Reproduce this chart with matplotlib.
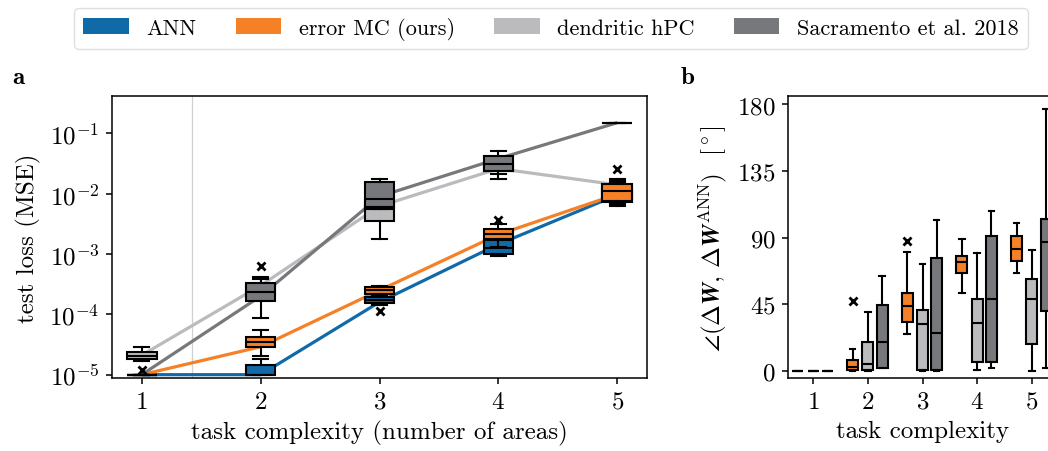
import matplotlib
matplotlib.use("Agg")
import matplotlib.pyplot as plt
from matplotlib.patches import Patch

plt.rcParams.update({
    "font.family": "serif",
    "font.serif": ["cmr10"],
    "mathtext.fontset": "cm",
    "axes.formatter.use_mathtext": True,
    "axes.unicode_minus": False,
    "font.size": 18,
})

tasks = [1, 2, 3, 4, 5]
models = ["ANN", "error MC (ours)", "dendritic hPC", "Sacramento et al. 2018"]
colors = ["#106aa8", "#f58025", "#bbbbbd", "#77787b"]

# panel a: mean test loss per task (the lines)
loss_mean_ann = [1e-5, 1e-5, 1.6e-4, 1.45e-3, 9.5e-3]
loss_mean_mc = [1e-5, 2.9e-5, 2.5e-4, 2.1e-3, 9.8e-3]
loss_mean_hpc = [2.1e-5, 3.0e-4, 6.2e-3, 2.6e-2, 1.4e-2]
loss_mean_sac = [1e-5, 2.0e-4, 9.0e-3, 3.8e-2, 0.15]

# panel a box stats per task: whislo, q1, med, q3, whishi
loss_box_ann = [
    [1e-5, 1e-5, 1e-5, 1e-5, 1e-5],
    [1e-5, 1e-5, 1e-5, 1.45e-5, 1.8e-5],
    [1.45e-4, 1.55e-4, 1.72e-4, 1.95e-4, 2.1e-4],
    [9.1e-4, 1.0e-3, 1.28e-3, 1.7e-3, 2.4e-3],
    [6.3e-3, 7.3e-3, 9.0e-3, 1.2e-2, 1.5e-2],
]
loss_fliers_ann = [[], [], [1.15e-4], [], []]

loss_box_mc = [
    [1e-5, 1e-5, 1e-5, 1e-5, 1e-5],
    [2.06e-5, 2.85e-5, 3.45e-5, 4.17e-5, 5.5e-5],
    [2.0e-4, 2.2e-4, 2.55e-4, 2.85e-4, 3.0e-4],
    [1.3e-3, 1.76e-3, 2.13e-3, 2.58e-3, 3.1e-3],
    [6.5e-3, 7.6e-3, 1.11e-2, 1.45e-2, 1.74e-2],
]
loss_fliers_mc = [[1.2e-5], [], [], [3.6e-3], [2.6e-2]]

loss_box_hpc = [
    [1.7e-5, 1.82e-5, 2.06e-5, 2.34e-5, 2.9e-5],
    [1.8e-4, 2.2e-4, 2.7e-4, 3.1e-4, 3.9e-4],
    [1.8e-3, 3.5e-3, 5.5e-3, 7.4e-3, 8.5e-3],
    [2.1e-2, 2.4e-2, 2.8e-2, 3.2e-2, 3.7e-2],
    [7e-3, 8e-3, 1.0e-2, 1.3e-2, 1.6e-2],
]
loss_fliers_hpc = [[], [], [], [], []]

loss_box_sac = [
    [1e-5, 1e-5, 1e-5, 1e-5, 1e-5],
    [8.7e-5, 1.64e-4, 2.37e-4, 3.26e-4, 4.1e-4],
    [5.6e-3, 6.0e-3, 8.1e-3, 1.58e-2, 1.74e-2],
    [1.78e-2, 2.4e-2, 3.1e-2, 4.2e-2, 5.1e-2],
    [0.15, 0.15, 0.15, 0.15, 0.15],
]
loss_fliers_sac = [[], [6.4e-4], [], [], []]

# panel b: angle to ANN update in degrees, per task
angle_box_mc = [
    [0, 0, 0, 0, 0],
    [0, 0.5, 3, 7.5, 15],
    [25, 33, 43.6, 53, 80.5],
    [52.6, 66, 73.4, 77.6, 89],
    [66, 74, 82.6, 91, 100],
]
angle_fliers_mc = [[], [47], [88], [], []]

angle_box_hpc = [
    [0, 0, 0, 0, 0],
    [0, 0.5, 5, 19.5, 40],
    [0, 0.7, 32, 41, 72],
    [0.7, 6.3, 32.2, 48.6, 79.7],
    [0, 18.2, 48.4, 62, 82],
]
angle_fliers_hpc = [[], [], [], [], []]

angle_box_sac = [
    [0, 0, 0, 0, 0],
    [2, 2, 19.5, 44.5, 64.5],
    [0, 0.7, 25.4, 76, 102],
    [2.2, 6.3, 48.8, 91, 108],
    [2.2, 40.5, 87.3, 103, 177],
]
angle_fliers_sac = [[], [], [], [], []]


def make_stats(rows, fliers):
    return [
        dict(whislo=r[0], q1=r[1], med=r[2], q3=r[3], whishi=r[4], fliers=f)
        for r, f in zip(rows, fliers)
    ]


def draw_boxes(ax, stats, positions, color, width, z):
    lw = 1.5
    ax.bxp(
        stats,
        positions=positions,
        widths=width,
        patch_artist=True,
        manage_ticks=False,
        boxprops=dict(facecolor=color, edgecolor="black", linewidth=lw),
        medianprops=dict(color="black", linewidth=lw),
        whiskerprops=dict(color="black", linewidth=lw),
        capprops=dict(color="black", linewidth=lw),
        flierprops=dict(marker="x", markeredgecolor="black",
                        markersize=6, markeredgewidth=2.0),
        zorder=z,
    )


fig = plt.figure(figsize=(10.48, 4.52), dpi=100)
ax_a = fig.add_axes([112 / 1048, 0.1615, 535 / 1048, 0.6228])
ax_b = fig.add_axes([788 / 1048, 0.1615, 269 / 1048, 0.6228])

# ---- panel a ----
ax_a.axvline(1.42, color="#d0d0d0", linewidth=0.9, zorder=0)
line_means = [loss_mean_ann, loss_mean_mc, loss_mean_hpc, loss_mean_sac]
for means, c in zip(line_means, colors):
    ax_a.plot(tasks, means, color=c, linewidth=2.3, zorder=1, solid_capstyle="butt")

box_sets_a = [
    (loss_box_hpc, loss_fliers_hpc, colors[2], 2),
    (loss_box_sac, loss_fliers_sac, colors[3], 3),
    (loss_box_ann, loss_fliers_ann, colors[0], 4),
    (loss_box_mc, loss_fliers_mc, colors[1], 5),
]
for rows, fl, c, z in box_sets_a:
    draw_boxes(ax_a, make_stats(rows, fl), tasks, c, 0.25, z)

ax_a.set_yscale("log")
ax_a.set_ylim(10 ** -5.055, 10 ** -0.39)
ax_a.set_xlim(0.75, 5.25)
ax_a.set_xticks(tasks)
ax_a.set_yticks([1e-5, 1e-4, 1e-3, 1e-2, 1e-1])
ax_a.minorticks_off()
ax_a.set_xlabel("task complexity (number of areas)", labelpad=5)
ax_a.set_ylabel("test loss (MSE)", labelpad=6)

# ---- panel b ----
offsets = [-0.28, 0.0, 0.26]
box_sets_b = [
    (angle_box_mc, angle_fliers_mc, colors[1]),
    (angle_box_hpc, angle_fliers_hpc, colors[2]),
    (angle_box_sac, angle_fliers_sac, colors[3]),
]
for (rows, fl, c), off in zip(box_sets_b, offsets):
    pos = [t + off for t in tasks]
    draw_boxes(ax_b, make_stats(rows, fl), pos, c, 0.2, 3)

ax_b.set_xlim(0.54, 5.46)
ax_b.set_ylim(-4.7, 185.4)
ax_b.set_xticks(tasks)
ax_b.set_yticks([0, 45, 90, 135, 180])
ax_b.set_xlabel("task complexity", labelpad=5)
ax_b.set_ylabel(r"$\angle(\Delta\boldsymbol{W},\,\Delta\boldsymbol{W}^{\mathrm{ANN}})$  [$^\circ$]",
                labelpad=6)

for ax in (ax_a, ax_b):
    ax.tick_params(direction="out", length=4, width=1.1, pad=5)
    for s in ax.spines.values():
        s.set_linewidth(1.1)

fig.text(12 / 1048, 1 - 78 / 452, r"$\mathbf{a}$", fontsize=18, va="center")
fig.text(680 / 1048, 1 - 78 / 452, r"$\mathbf{b}$", fontsize=18, va="center")

handles = [Patch(facecolor=c, edgecolor="none") for c in colors]
fig.legend(handles, models, loc="center", bbox_to_anchor=(551 / 1048, 1 - 29.5 / 452),
           ncol=4, fontsize=16, handlelength=2.05, handleheight=0.75,
           handletextpad=0.8, columnspacing=1.75, frameon=True, edgecolor="#d8d8d8",
           fancybox=True, borderpad=0.4)

fig.savefig("out.png", dpi=100)
